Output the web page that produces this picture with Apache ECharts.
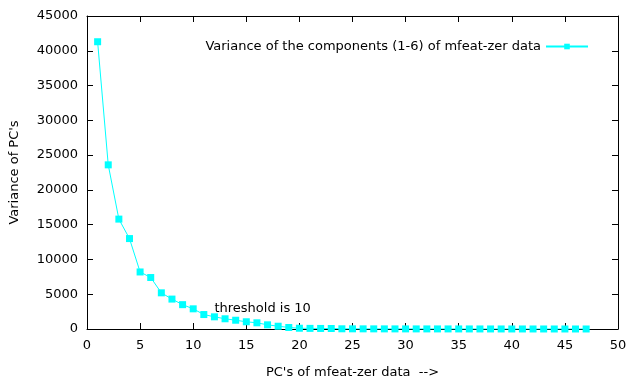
<!DOCTYPE html>
<html>
<head>
<meta charset="utf-8">
<script src="https://cdn.jsdelivr.net/npm/echarts@6/dist/echarts.min.js"></script>
<style>
html, body { margin: 0; padding: 0; background: #fff; }
#chart { width: 640px; height: 384px; }
</style>
</head>
<body>
<div id="chart"></div>
<script>
var components = [];
for (var i = 1; i <= 47; i++) components.push(i);
var variances = [41300, 23600, 15800, 13000, 8200, 7400, 5200, 4300, 3500, 2900,
	2080, 1750, 1470, 1260, 1040, 890, 600, 400, 220, 110,
	90, 80, 70, 30, 25, 22, 20, 18, 16, 15,
	14, 13, 12, 11, 10, 9, 8, 7, 6, 5,
	5, 4, 4, 3, 3, 2, 2];
var seriesName = 'Variance of the components (1-6) of mfeat-zer data';
var noteText = 'threshold is 10';
var notePos = [12, 3000];

var font = 'DejaVu Sans';
var fs = 13;
var myChart = echarts.init(document.getElementById('chart'));

function axisBase(extra) {
	var a = {
		type: 'value',
		axisLine: { show: true, onZero: false, lineStyle: { color: '#000', width: 1 } },
		axisTick: { show: true, inside: true, length: 6, lineStyle: { color: '#000' } },
		splitLine: { show: false },
		axisLabel: { color: '#000', fontFamily: font, fontSize: fs, margin: 9,
			formatter: function (v) { return String(v); } }
	};
	for (var k in extra) a[k] = extra[k];
	return a;
}

var option = {
	animation: false,
	textStyle: { fontFamily: font },
	grid: { left: 86, right: 22, top: 16, bottom: 54 },
	legend: {
		data: [seriesName],
		right: 46,
		top: 35,
		align: 'right',
		itemWidth: 42,
		itemHeight: 7,
		itemGap: 0,
		textStyle: { color: '#000', fontFamily: font, fontSize: fs }
	},
	xAxis: [
		axisBase({
			min: 0, max: 50, interval: 5,
			name: "PC's of mfeat-zer data  -->",
			nameLocation: 'middle', nameGap: 37,
			nameTextStyle: { color: '#000', fontFamily: font, fontSize: fs },
			axisLabel: { color: '#000', fontFamily: font, fontSize: fs, margin: 10 }
		}),
		axisBase({ min: 0, max: 50, interval: 5, position: 'top', axisLabel: { show: false } })
	],
	yAxis: [
		axisBase({
			min: 0, max: 45000, interval: 5000,
			name: "Variance of PC's",
			nameLocation: 'middle', nameGap: 66,
			nameTextStyle: { color: '#000', fontFamily: font, fontSize: fs }
		}),
		axisBase({ min: 0, max: 45000, interval: 5000, position: 'right', axisLabel: { show: false } })
	],
	series: [{
		name: seriesName,
		type: 'line',
		data: components.map(function (c, i) { return [c, variances[i]]; }),
		symbol: 'rect',
		symbolSize: 7,
		itemStyle: { color: '#00ffff' },
		lineStyle: { color: '#00ffff', width: 1 },
		markPoint: {
			symbol: 'rect',
			symbolSize: 0,
			label: {
				show: true,
				position: 'right',
				distance: 0,
				formatter: noteText,
				color: '#000',
				fontFamily: font,
				fontSize: fs
			},
			data: [{ coord: notePos }]
		}
	}]
};

myChart.setOption(option);
</script>
</body>
</html>
